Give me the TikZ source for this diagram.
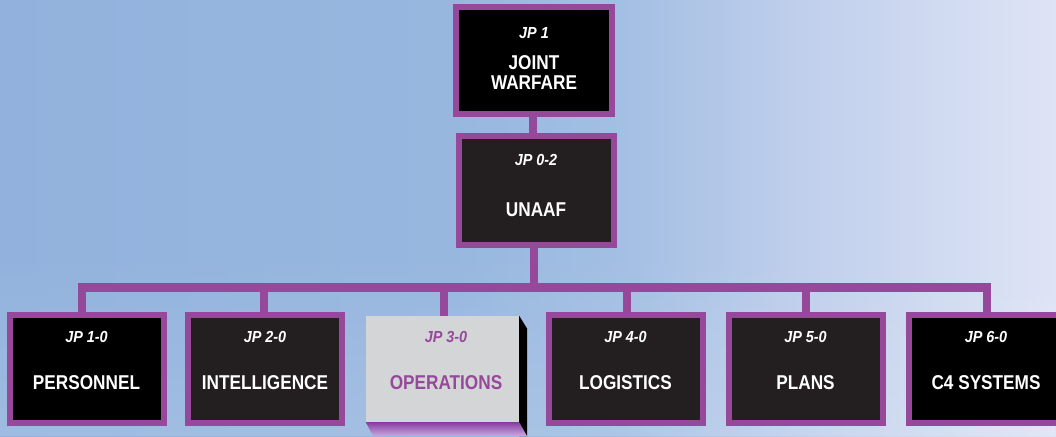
\documentclass[tikz,border=0pt]{standalone}
\usepackage{fontspec}
\setmainfont{Liberation Sans}
\newfontfamily\mainf[FakeStretch=0.86]{Liberation Sans}
\newfontfamily\jpf[FakeStretch=0.9]{Liberation Sans}
\usetikzlibrary{fadings}
\definecolor{jpurple}{RGB}{150,72,154}
\definecolor{boxdark}{RGB}{35,31,32}
\definecolor{boxgray}{RGB}{212,213,215}
\definecolor{bgA}{RGB}{146,178,221}
\definecolor{bgB}{RGB}{152,183,223}
\definecolor{bgC}{RGB}{163,191,227}
\definecolor{bgD}{RGB}{192,207,236}
\definecolor{bgE}{RGB}{222,228,245}
\definecolor{sideTop}{RGB}{135,60,160}
\definecolor{sideBot}{RGB}{200,170,225}
\pgfdeclarehorizontalshading{sky}{100bp}{color(0bp)=(bgA); color(25bp)=(bgA); color(46.5bp)=(bgB); color(54.5bp)=(bgC); color(63bp)=(bgD); color(75bp)=(bgE); color(100bp)=(bgE)}
\tikzset{
  conn/.style={draw=jpurple, line width=8.5pt},
  orgbox/.style={draw=jpurple, line width=6pt, fill=#1, minimum width=154pt, minimum height=108pt, inner sep=0pt},
  maintxt/.style={text=#1, font=\mainf\bfseries\fontsize{20}{20}\selectfont, inner sep=0pt, align=center},
  jptxt/.style={text=#1, font=\jpf\bfseries\itshape\fontsize{16}{16}\selectfont, inner sep=0pt},
}
\begin{document}
\begin{tikzpicture}[x=1pt,y=-1pt]
\useasboundingbox (0,0) rectangle (1056,436);
\clip (0,0) rectangle (1056,436);
% background sky
\shade[shading=sky] (0,0) rectangle (1056,436);
\fill[white, opacity=0.12, path fading=north] (0,250) rectangle (1056,436);

% boxes
\node[orgbox=black, minimum width=156pt, minimum height=107pt] (jp1) at (534,60.5) {};
\node[orgbox=boxdark, minimum width=155pt, minimum height=109pt] (unaaf) at (536,190.5) {};

% bus and taps
\coordinate (bus) at (0,287.5);
\coordinate (t1) at (82,287.5);
\coordinate (t2) at (264,287.5);
\coordinate (t3) at (444,287.5);
\coordinate (t4) at (627,287.5);
\coordinate (t5) at (806,287.5);
\coordinate (t6) at (987,287.5);

\node[orgbox=black] (b1) at (86.5,369) {};
\node[orgbox=boxdark] (b2) at (265,369) {};
\node[fill=boxgray, minimum width=153pt, minimum height=106pt, inner sep=0pt] (b3) at (442.5,369) {};
\node[orgbox=boxdark] (b4) at (625.5,369) {};
\node[orgbox=boxdark] (b5) at (805.5,369) {};
\node[orgbox=black] (b6) at (986,369) {};

% connectors
\draw[conn] ([xshift=-1pt]jp1.south) -- ([xshift=-1pt]jp1.south |- unaaf.north);
\draw[conn] ([xshift=-2pt]unaaf.south) -- ([xshift=-2pt]unaaf.south |- bus);
\draw[conn, line cap=rect] (t1) -- (t6);
\draw[conn] (t1) -- (t1 |- b1.north);
\draw[conn] (t2) -- (t2 |- b2.north);
\draw[conn] (t3) -- (t3 |- b3.north);
\draw[conn] (t4) -- (t4 |- b4.north);
\draw[conn] (t5) -- (t5 |- b5.north);
\draw[conn] (t6) -- (t6 |- b6.north);

% redraw boxes over connector ends
\node[orgbox=black, minimum width=156pt, minimum height=107pt] at (jp1) {};
\node[orgbox=boxdark, minimum width=155pt, minimum height=109pt] at (unaaf) {};
\node[orgbox=black] at (b1) {};
\node[orgbox=boxdark] at (b2) {};
\node[orgbox=boxdark] at (b4) {};
\node[orgbox=boxdark] at (b5) {};
\node[orgbox=black] at (b6) {};

% 3D sides of the highlighted box
\fill[black] (b3.north east) -- ([shift={(8,13)}]b3.north east) -- (527,436) -- (519,436) -- cycle;
\shade[top color=sideTop, bottom color=sideBot] (b3.south west) -- (b3.south east) -- (527,436) -- (373,436) -- cycle;
\node[fill=boxgray, minimum width=153pt, minimum height=106pt, inner sep=0pt] at (b3) {};

% texts
\node[jptxt=white] (l1) at (534,33) {JP 1};
\node[maintxt=white] (n1) at (534,73) {JOINT\\WARFARE};
\node[jptxt=white] (l0) at (536,160) {JP 0-2};
\node[maintxt=white] (n0) at (536,210) {UNAAF};

\node[jptxt=white] (lb1) at (86.5,337) {JP 1-0};
\node[maintxt=white] (nb1) at (86.5,383) {PERSONNEL};
\node[jptxt=white] (lb2) at (265,337) {JP 2-0};
\node[maintxt=white] (nb2) at (265,383) {INTELLIGENCE};
\node[jptxt=jpurple] (lb3) at (446,337) {JP 3-0};
\node[maintxt=jpurple] (nb3) at (446,383) {OPERATIONS};
\node[jptxt=white] (lb4) at (625.5,337) {JP 4-0};
\node[maintxt=white] (nb4) at (625.5,383) {LOGISTICS};
\node[jptxt=white] (lb5) at (805.5,337) {JP 5-0};
\node[maintxt=white] (nb5) at (805.5,383) {PLANS};
\node[jptxt=white] (lb6) at (986,337) {JP 6-0};
\node[maintxt=white] (nb6) at (986,383) {C4 SYSTEMS};
\end{tikzpicture}
\end{document}
